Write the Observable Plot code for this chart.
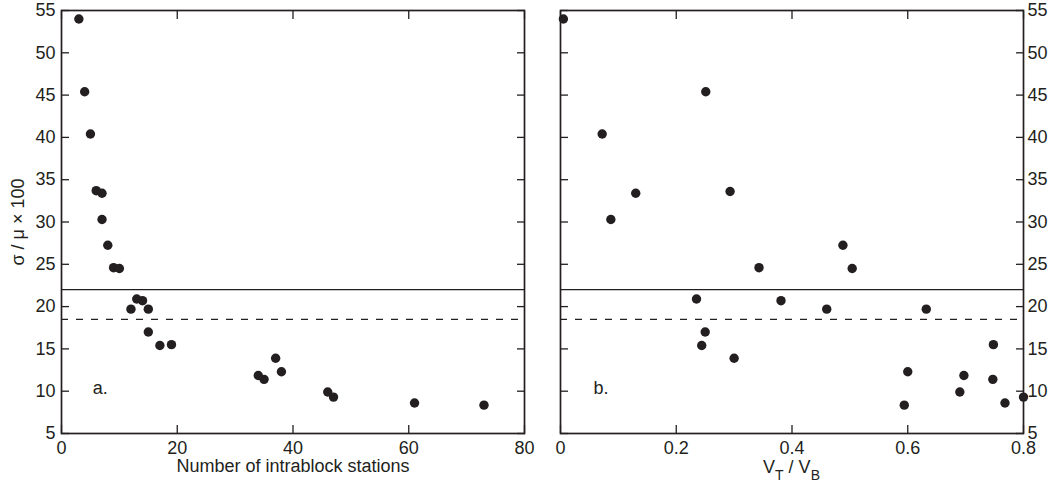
<!DOCTYPE html>
<html>
<head>
<meta charset="utf-8">
<script src="https://cdn.jsdelivr.net/npm/d3@7"></script>
<script src="https://cdn.jsdelivr.net/npm/@observablehq/plot@0.6"></script>
<style>
  html, body { margin: 0; padding: 0; background: #fff; overflow: hidden; }
  #wrap { display: flex; width: 1054px; height: 486px; }
  #wrap svg { display: block; }
</style>
</head>
<body>
<div id="wrap"></div>
<script>
// ---- data ----
const stations = [3, 4, 5, 6, 7, 7, 8, 9, 10, 12, 13, 14, 15, 15, 17, 19, 34, 35, 37, 38, 46, 47, 61, 73];
const cvLeft = [54.0, 45.4, 40.4, 33.7, 33.4, 30.3, 27.25, 24.6, 24.5, 19.7, 20.9, 20.7, 19.7, 17.0, 15.4, 15.5, 11.85, 11.4, 13.9, 12.3, 9.9, 9.3, 8.6, 8.35];

const ratio = [0.005, 0.072, 0.087, 0.130, 0.251, 0.293, 0.488, 0.343, 0.504, 0.235, 0.381, 0.460, 0.632, 0.250, 0.244, 0.300, 0.748, 0.600, 0.697, 0.747, 0.690, 0.800, 0.594, 0.768];
const cvRight = [54.0, 40.4, 30.3, 33.4, 45.4, 33.6, 27.25, 24.6, 24.5, 20.9, 20.7, 19.7, 19.7, 17.0, 15.4, 13.9, 15.5, 12.3, 11.85, 11.4, 9.9, 9.3, 8.35, 8.6];

const solidLevel = [22.0];
const dashedLevel = [18.5];

const yTicks = [5, 10, 15, 20, 25, 30, 35, 40, 45, 50, 55];
const xTicksLeft = [0, 20, 40, 60, 80];
const xTicksRight = [0, 0.2, 0.4, 0.6, 0.8];

const yLabel = "σ / μ × 100";
const xLabelLeft = "Number of intrablock stations";
const panelLabels = ["a.", "b."];
const panelLabelPos = [[5.4, 10.4], [0.057, 10.4]];

// ---- style ----
const INK = "#231f20";
const FONT = "'Liberation Sans', Arial, Helvetica, sans-serif";
const FS = 18;
const H = 486, MT = 10, MB = 53;
const TL = 8; // inward tick length

const left = stations.map((x, i) => ({x, y: cvLeft[i]}));
const right = ratio.map((x, i) => ({x, y: cvRight[i]}));
const fmt = d => String(d);
const tickOpts = {tickFormat: () => "", label: null, stroke: INK, strokeWidth: 1.3, tickSize: TL};

function common(data) {
  return [
    Plot.ruleY(solidLevel, {stroke: INK, strokeWidth: 1.3}),
    Plot.ruleY(dashedLevel, {stroke: INK, strokeWidth: 1.3, strokeDasharray: "7,8"}),
    Plot.frame({stroke: INK, strokeWidth: 1.7}),
    Plot.dot(data, {x: "x", y: "y", r: 4.7, fill: INK, stroke: "none"})
  ];
}

function inwardTicks(xTicks) {
  return [
    Plot.axisY(yTicks, {anchor: "left", dx: TL, ...tickOpts}),
    Plot.axisY(yTicks, {anchor: "right", dx: -TL, ...tickOpts}),
    Plot.axisX(xTicks, {anchor: "bottom", dy: -TL, ...tickOpts}),
    Plot.axisX(xTicks, {anchor: "top", dy: TL, ...tickOpts})
  ];
}

const leftPlot = Plot.plot({
  width: 542, height: H,
  marginLeft: 61, marginRight: 18, marginTop: MT, marginBottom: MB,
  style: {fontFamily: FONT, fontSize: FS + "px", color: INK, background: "white", overflow: "visible"},
  x: {domain: [0, 80]},
  y: {domain: [5, 55]},
  marks: [
    ...common(left),
    ...inwardTicks(xTicksLeft),
    Plot.axisY(yTicks, {anchor: "left", tickSize: 0, tickPadding: 6, tickFormat: fmt, label: null, fill: INK}),
    Plot.axisX(xTicksLeft, {anchor: "bottom", tickSize: 0, tickPadding: 8, tickFormat: fmt, label: null, fill: INK}),
    Plot.text([xLabelLeft], {frameAnchor: "bottom", textAnchor: "middle", lineAnchor: "middle", dy: 33, text: d => d, fill: INK, fontSize: FS}),
    Plot.text([yLabel], {frameAnchor: "left", textAnchor: "middle", lineAnchor: "middle", dx: -43, rotate: -90, text: d => d, fill: INK, fontSize: FS}),
    Plot.text([panelLabels[0]], {x: panelLabelPos[0][0], y: panelLabelPos[0][1], text: d => d, textAnchor: "start", fill: INK, fontSize: FS})
  ]
});

const rightPlot = Plot.plot({
  width: 512, height: H,
  marginLeft: 18, marginRight: 31, marginTop: MT, marginBottom: MB,
  style: {fontFamily: FONT, fontSize: FS + "px", color: INK, background: "white", overflow: "visible"},
  x: {domain: [0, 0.8]},
  y: {domain: [5, 55]},
  marks: [
    ...common(right),
    ...inwardTicks(xTicksRight),
    Plot.axisY(yTicks, {anchor: "right", tickSize: 0, tickPadding: 4, tickFormat: fmt, label: null, fill: INK}),
    Plot.axisX(xTicksRight, {anchor: "bottom", tickSize: 0, tickPadding: 8, tickFormat: fmt, label: null, fill: INK}),
    Plot.text([panelLabels[1]], {x: panelLabelPos[1][0], y: panelLabelPos[1][1], text: d => d, textAnchor: "start", fill: INK, fontSize: FS})
  ]
});

const wrap = document.getElementById("wrap");
wrap.appendChild(leftPlot);
wrap.appendChild(rightPlot);

// x label with subscripts for the right panel: V_T / V_B
const rsvg = d3.select(rightPlot);
const cx = (18 + (512 - 31)) / 2;
const t = rsvg.append("text")
  .attr("x", cx).attr("y", H - 13)
  .attr("text-anchor", "middle")
  .attr("fill", INK)
  .style("font-family", FONT)
  .style("font-size", FS + "px");
t.append("tspan").text("V");
t.append("tspan").attr("dy", 7).style("font-size", "14px").text("T");
t.append("tspan").attr("dy", -7).text(" / V");
t.append("tspan").attr("dy", 7).style("font-size", "14px").text("B");
</script>
</body>
</html>
